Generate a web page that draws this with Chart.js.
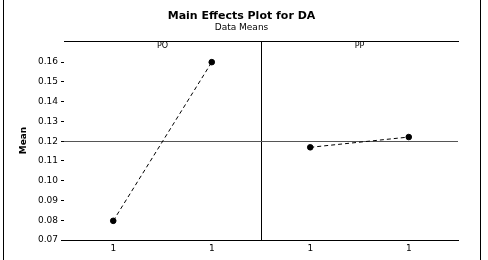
<!DOCTYPE html>
<html>
<head>
<meta charset="utf-8">
<script src="https://cdn.jsdelivr.net/npm/chart.js@4/dist/chart.umd.min.js"></script>
<style>
  html, body { margin: 0; padding: 0; background: #fff; }
  #wrap { position: relative; width: 488px; height: 260px; overflow: hidden; }
  canvas { position: absolute; left: 0; top: 0; }
  #frame { position: absolute; left: 3px; top: 0; width: 476px; height: 260px;
           border-left: 1px solid #000; border-right: 1px solid #000; pointer-events: none; }
</style>
</head>
<body>
<div id="wrap">
  <canvas id="c" width="488" height="260"></canvas>
  <div id="frame"></div>
</div>
<script>
// ---- data ----
const factors = ['PO', 'PP'];
const levelLabels = ['1', '1', '1', '1'];
const poMeans = [0.0797, 0.1600];
const ppMeans = [0.1169, 0.1221];
const grandMean = 0.12;
const yTicks = [0.07, 0.08, 0.09, 0.10, 0.11, 0.12, 0.13, 0.14, 0.15, 0.16];
const yMin = 0.07;
const yMax = 0.1707;

const FONT = "'DejaVu Sans', sans-serif";

const panelLabels = {
  id: 'panelLabels',
  afterDraw(chart) {
    const ctx = chart.ctx;
    const xs = chart.scales.x;
    const top = chart.chartArea.top;
    ctx.save();
    ctx.fillStyle = '#000';
    ctx.font = '8px ' + FONT;
    ctx.textAlign = 'center';
    ctx.textBaseline = 'middle';
    factors.forEach((f, i) => {
      ctx.fillText(f, xs.getPixelForValue(i * 2 + 0.5), top + 5);
    });
    ctx.restore();
  }
};

new Chart(document.getElementById('c'), {
  type: 'line',
  data: {
    labels: levelLabels,
    datasets: [
      {
        label: factors[0],
        data: [...poMeans, null, null],
        borderColor: '#000',
        backgroundColor: '#000',
        borderWidth: 1,
        borderDash: [4, 3],
        pointRadius: 2.8,
        pointStyle: 'circle',
        spanGaps: false
      },
      {
        label: factors[1],
        data: [null, null, ...ppMeans],
        borderColor: '#000',
        backgroundColor: '#000',
        borderWidth: 1,
        borderDash: [4, 3],
        pointRadius: 2.8,
        pointStyle: 'circle',
        spanGaps: false
      }
    ]
  },
  options: {
    responsive: false,
    animation: false,
    devicePixelRatio: 1,
    layout: { padding: { top: 0, right: 5, bottom: 6, left: 0 } },
    plugins: {
      legend: { display: false },
      tooltip: { enabled: false },
      title: {
        display: true,
        text: 'Main Effects Plot for DA',
        color: '#000',
        font: { family: FONT, size: 11, weight: 'bold', lineHeight: 1.1 },
        padding: { top: 10, bottom: 0 }
      },
      subtitle: {
        display: true,
        text: 'Data Means',
        color: '#000',
        font: { family: FONT, size: 9, lineHeight: 1.2 },
        padding: { top: 0, bottom: 8.1 }
      }
    },
    scales: {
      x: {
        type: 'category',
        offset: true,
        position: 'bottom',
        border: { display: true, color: '#000', width: 1 },
        grid: {
          offset: true,
          drawTicks: false,
          lineWidth: 1,
          color: (ctx) => ctx.index === 2 ? '#000' : 'rgba(0,0,0,0)'
        },
        ticks: { color: '#000', font: { family: FONT, size: 9 }, padding: 3, maxRotation: 0, autoSkip: false },
        afterFit: (s) => { s.height = 14; }
      },
      x2: {
        type: 'category',
        labels: factors,
        position: 'top',
        display: true,
        border: { display: true, color: '#000', width: 1 },
        grid: { display: false, drawTicks: false },
        ticks: { display: false },
        afterFit: (s) => { s.height = 0; }
      },
      y: {
        type: 'linear',
        position: 'left',
        min: yMin,
        max: yMax,
        border: { display: false },
        afterBuildTicks: (s) => { s.ticks = yTicks.map(v => ({ value: v })); },
        grid: {
          drawOnChartArea: true,
          drawTicks: true,
          tickLength: 3,
          tickColor: '#000',
          lineWidth: 1,
          color: (ctx) => (ctx.tick && Math.abs(ctx.tick.value - grandMean) < 1e-9) ? '#555' : 'rgba(0,0,0,0)'
        },
        ticks: {
          color: '#000',
          font: { family: FONT, size: 9 },
          padding: 3,
          callback: (v) => Number(v).toFixed(2)
        },
        title: {
          display: true,
          text: 'Mean',
          color: '#000',
          font: { family: FONT, size: 9, weight: 'bold', lineHeight: 1.2 },
          padding: { top: 18, bottom: 0 }
        },
        afterFit: (s) => { s.width = 64; }
      },
      y2: {
        type: 'linear',
        position: 'right',
        display: true,
        border: { display: false },
        grid: { display: false, drawTicks: false },
        ticks: { display: false },
        afterFit: (s) => { s.width = 25; }
      }
    }
  },
  plugins: [panelLabels]
});
</script>
</body>
</html>
